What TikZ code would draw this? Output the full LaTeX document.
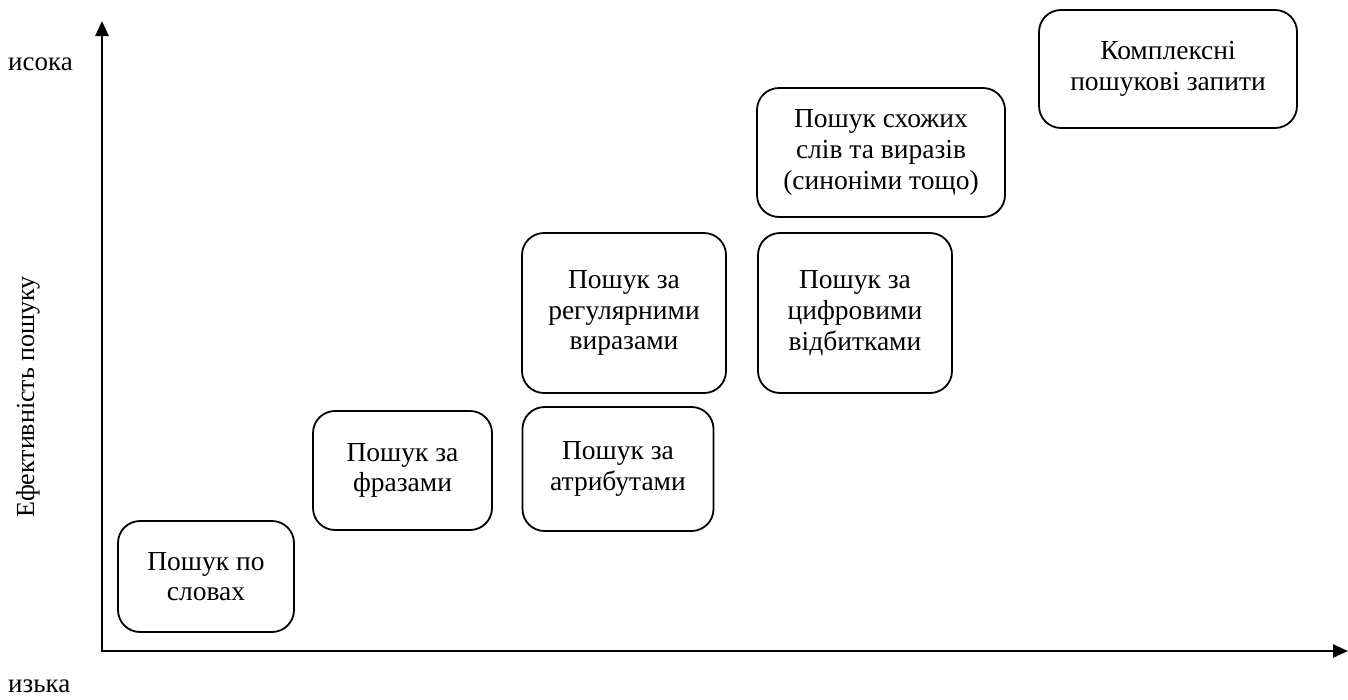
\documentclass[tikz,border=0pt]{standalone}
\usepackage{fontspec}
\setmainfont{Liberation Serif}
\usetikzlibrary{arrows.meta}
\tikzset{
  box/.style={draw, line width=1.8pt, rounded corners=22pt, align=center, inner sep=0pt,
    font=\fontsize{27.5}{30.7}\selectfont},
  lbl/.style={inner sep=0pt, font=\fontsize{27}{30.7}\selectfont},
  axis/.style={line width=2.6pt, -{Triangle[length=15pt,width=13pt]}}
}
\begin{document}
\begin{tikzpicture}[x=1pt,y=-1pt]
\useasboundingbox (0,0) rectangle (1348,699);
\coordinate (O) at (102,651);
\coordinate (Ytop) at (102,21);
\coordinate (Xend) at (1348,651);
\draw[axis] (O) -- (Ytop);
\draw[axis] ([xshift=-1.3pt]O) -- (Xend);
\node[lbl, anchor=base west] (hi) at (8,70) {исока};
\node[lbl, anchor=base west] (lo) at (8,692) {изька};
\node[lbl, rotate=90, font=\fontsize{26}{30}\selectfont] (ylab) at (28,397) {Ефективність пошуку};
\node[box, minimum width=176pt, minimum height=111pt] (b1) at (206,576.5) {Пошук по\\словах};
\node[box, minimum width=179pt, minimum height=119pt] (b2) at (402.5,470.5) {Пошук за\\фразами};
\node[box, minimum width=191pt, minimum height=124pt] (b3) at (618,469) {Пошук за\\атрибутами};
\node[box, minimum width=204pt, minimum height=160pt] (b4) at (624,313) {Пошук за\\регулярними\\виразами};
\node[box, minimum width=194pt, minimum height=160pt] (b5) at (855,313) {Пошук за\\цифровими\\відбитками};
\node[box, minimum width=248pt, minimum height=129pt] (b6) at (881,152.5) {Пошук схожих\\слів та виразів\\(синоніми тощо)};
\node[box, minimum width=258pt, minimum height=118pt] (b7) at (1168,69) {Комплексні\\пошукові запити};
\end{tikzpicture}
\end{document}
